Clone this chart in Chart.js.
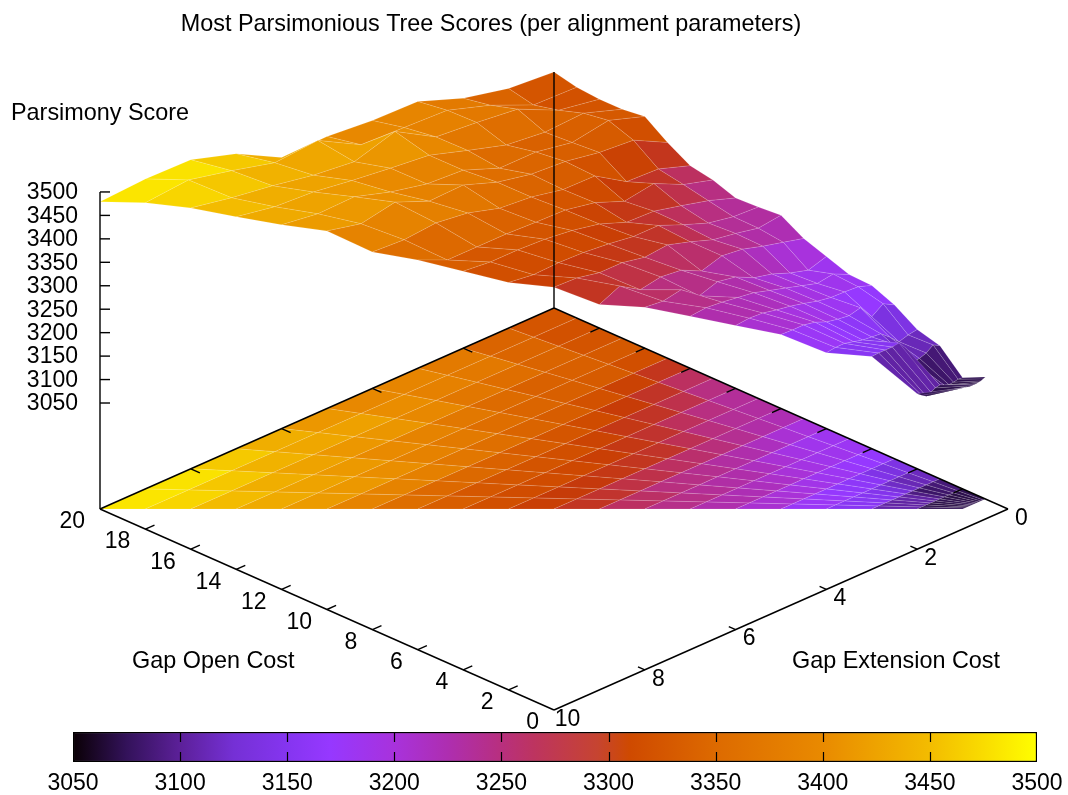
<!DOCTYPE html>
<html>
<head>
<meta charset="utf-8">
<title>Most Parsimonious Tree Scores</title>
<script src="https://cdn.jsdelivr.net/npm/chart.js@4"></script>
<style>
  html, body { margin: 0; background: #fff; }
  #wrap { position: relative; width: 1068px; height: 795px; overflow: hidden; }
  #surface { position: absolute; left: 0; top: 0; }
  #colorbar { position: absolute; left: 0; top: 720px; }
</style>
</head>
<body>
<div id="wrap">
  <canvas id="surface" width="1068" height="795"></canvas>
  <canvas id="colorbar" width="1068" height="75"></canvas>
</div>
<script>
// scores per gap open cost, columns are ext = open * j / 20, j = 0..10
const open01 = [3084, 3082, 3080, 3079, 3078, 3078, 3078, 3078, 3080, 3081, 3082];
const open02 = [3061, 3062, 3060, 3059, 3062, 3067, 3065, 3060, 3056, 3062, 3070];
const open03 = [3108, 3116, 3105, 3100, 3099, 3135, 3152, 3150, 3150, 3150, 3149];
const open04 = [3121, 3118, 3112, 3130, 3146, 3148, 3150, 3155, 3160, 3160, 3157];
const open05 = [3152, 3165, 3148, 3178, 3172, 3175, 3180, 3190, 3195, 3195, 3196];
const open06 = [3172, 3182, 3184, 3185, 3190, 3198, 3205, 3210, 3216, 3218, 3215];
const open07 = [3174, 3190, 3185, 3195, 3205, 3215, 3225, 3230, 3235, 3238, 3235];
const open08 = [3191, 3179, 3190, 3205, 3214, 3233, 3240, 3227, 3257, 3250, 3254];
const open09 = [3208, 3219, 3230, 3243, 3248, 3235, 3256, 3261, 3253, 3280, 3260];
const open10 = [3236, 3230, 3240, 3248, 3265, 3280, 3275, 3285, 3285, 3295, 3297];
const open11 = [3232, 3235, 3245, 3265, 3287, 3287, 3295, 3300, 3302, 3300, 3307];
const open12 = [3230, 3250, 3265, 3279, 3281, 3303, 3315, 3322, 3325, 3325, 3331];
const open13 = [3247, 3265, 3295, 3285, 3310, 3322, 3324, 3327, 3327, 3327, 3355];
const open14 = [3256, 3279, 3282, 3324, 3325, 3339, 3345, 3365, 3374, 3368, 3372];
const open15 = [3284, 3321, 3327, 3340, 3345, 3360, 3386, 3384, 3414, 3400, 3417];
const open16 = [3318, 3344, 3331, 3345, 3345, 3375, 3380, 3397, 3421, 3419, 3430];
const open17 = [3312, 3340, 3336, 3345, 3370, 3396, 3405, 3415, 3427, 3432, 3447];
const open18 = [3312, 3327, 3368, 3378, 3386, 3436, 3410, 3420, 3436, 3449, 3466];
const open19 = [3316, 3319, 3359, 3389, 3393, 3397, 3447, 3440, 3464, 3485, 3477];
const open20 = [3327, 3335, 3357, 3393, 3395, 3404, 3402, 3453, 3483, 3485, 3479];
const scoreRows = [open01, open02, open03, open04, open05, open06, open07, open08, open09, open10,
  open11, open12, open13, open14, open15, open16, open17, open18, open19, open20];

const openTicks = [0, 2, 4, 6, 8, 10, 12, 14, 16, 18, 20];
const extTicks = [0, 2, 4, 6, 8, 10];
const scoreTicks = [3050, 3100, 3150, 3200, 3250, 3300, 3350, 3400, 3450, 3500];

// colours, the surface reds are a bit cleaner than the box
const paletteScores = [3050, 3075, 3100, 3125, 3150, 3170, 3200, 3225, 3250, 3265, 3280, 3295, 3310, 3350, 3400, 3450, 3475, 3500];
const surfaceColors = ['#0a0005', '#33125a', '#5c2099', '#7530d5', '#8535f0', '#9638ff', '#a832dc', '#ae2eb0',
  '#b82f7e', '#bd3058', '#c13428', '#c63a08', '#cf4a00', '#dd6a00', '#e98a00', '#f3bc00', '#f9dc00', '#ffff00'];
const boxColors = ['#0a0005', '#33125a', '#5c2099', '#7530d5', '#8535f0', '#9638ff', '#a832dc', '#ae2eb0',
  '#b82f7e', '#bd3460', '#c23c48', '#c64430', '#cf4a00', '#dd6a00', '#e98a00', '#f3bc00', '#f9dc00', '#ffff00'];

const FONT = '"Liberation Sans", Helvetica, Arial, sans-serif';
const FLOOR_SCORE = 2824;
const SCORE_PX = 0.469;

function project(open, ext, score) {
  return {
    x: 554 - 22.7 * open + 45.4 * (10 - ext),
    y: 710 - 10.05 * open - 20.1 * (10 - ext) - (score - FLOOR_SCORE) * SCORE_PX
  };
}

function hexToRgb(h) {
  return [1, 3, 5].map(i => parseInt(h.slice(i, i + 2), 16));
}

function paletteColor(score) {
  const s = Math.min(Math.max(score, paletteScores[0]), paletteScores[paletteScores.length - 1]);
  let i = 0;
  while (i < paletteScores.length - 2 && s > paletteScores[i + 1]) i++;
  const t = (s - paletteScores[i]) / (paletteScores[i + 1] - paletteScores[i]);
  const a = hexToRgb(surfaceColors[i]), b = hexToRgb(surfaceColors[i + 1]);
  const c = a.map((v, k) => Math.round(v + (b[k] - v) * t));
  return `rgb(${c[0]},${c[1]},${c[2]})`;
}

function cellDataset(corners, score, seam) {
  const pts = corners.map(c => project(c[0], c[1], c[2]));
  pts.push(pts[0]);
  return {
    data: pts,
    showLine: true,
    fill: 'shape',
    backgroundColor: paletteColor(score),
    borderColor: seam,
    borderWidth: 0.5,
    pointRadius: 0,
    clip: false
  };
}

function segment(a, b) {
  return {
    data: [project(a[0], a[1], a[2]), project(b[0], b[1], b[2])],
    showLine: true,
    borderColor: '#000',
    borderWidth: 1.4,
    pointRadius: 0,
    clip: false
  };
}

// far cells go last, the chart paints later datasets first
function buildCells() {
  const cells = [];
  for (let r = 0; r < scoreRows.length - 1; r++) {
    const o1 = r + 1, o2 = r + 2;
    for (let j = 0; j < 10; j++) {
      const zs = [scoreRows[r][j], scoreRows[r][j + 1], scoreRows[r + 1][j + 1], scoreRows[r + 1][j]];
      const mean = (zs[0] + zs[1] + zs[2] + zs[3]) / 4;
      const at = [[o1, o1 * j / 20], [o1, o1 * (j + 1) / 20], [o2, o2 * (j + 1) / 20], [o2, o2 * j / 20]];
      const depth = project(o1 + 0.5, (o1 + 0.5) * (j + 0.5) / 20, FLOOR_SCORE).y;
      cells.push({ at, zs, mean, depth });
    }
  }
  return cells.sort((a, b) => b.depth - a.depth);
}

function buildAxes() {
  const out = [];
  const floor = FLOOR_SCORE;
  out.push(segment([20, 0, floor], [20, 0, open20[0]]));
  out.push(segment([20, 10, floor], [20, 10, 3500]));
  out.push(segment([0, 10, floor], [20, 10, floor]));
  out.push(segment([0, 10, floor], [0, 0, floor]));
  out.push(segment([20, 10, floor], [20, 0, floor]));
  out.push(segment([0, 0, floor], [20, 0, floor]));
  openTicks.slice(1, -1).forEach(o => {
    out.push(segment([o, 10, floor], [o, 9.8, floor]));
    out.push(segment([o, 0, floor], [o, 0.2, floor]));
  });
  extTicks.slice(1, -1).forEach(e => {
    out.push(segment([0, e, floor], [0.3, e, floor]));
    out.push(segment([20, e, floor], [19.6, e, floor]));
  });
  return out;
}

const cells = buildCells();
const surfaceSets = cells.map(c => cellDataset(c.at.map((p, i) => [p[0], p[1], c.zs[i]]), c.mean, 'rgba(255,255,255,0.25)'));
const baseSets = cells.map(c => cellDataset(c.at.map(p => [p[0], p[1], FLOOR_SCORE]), c.mean, 'rgba(255,255,255,0.25)'));

const labelsPlugin = {
  id: 'labels3d',
  afterDatasetsDraw(chart) {
    const { ctx, scales: { x, y } } = chart;
    const put = (text, px, py, align) => {
      ctx.textAlign = align;
      ctx.fillText(text, x.getPixelForValue(px), y.getPixelForValue(py));
    };
    ctx.save();
    ctx.fillStyle = '#000';
    ctx.textBaseline = 'middle';
    ctx.font = '23.4px ' + FONT;
    put('Most Parsimonious Tree Scores (per alignment parameters)', 491, 25, 'center');
    put('Parsimony Score', 11, 113.5, 'left');
    put('Gap Open Cost', 132, 661.5, 'left');
    put('Gap Extension Cost', 792, 661.5, 'left');
    ctx.font = '23px ' + FONT;
    scoreTicks.forEach(s => {
      const p = project(20, 10, s);
      put(String(s), 78, p.y + 1, 'right');
    });
    openTicks.forEach(o => {
      const p = project(o, 10, FLOOR_SCORE);
      put(String(o), p.x - 15, p.y + 13, 'right');
    });
    extTicks.forEach(e => {
      const p = project(0, e, FLOOR_SCORE);
      put(String(e), p.x + 13.5, p.y + 9.5, 'center');
    });
    ctx.restore();
  }
};

const scoreTickMarks = scoreTicks.map(s => {
  const p = project(20, 10, s);
  return {
    data: [p, { x: p.x + 10, y: p.y }],
    showLine: true, borderColor: '#000', borderWidth: 1.4, pointRadius: 0, clip: false
  };
});

new Chart(document.getElementById('surface'), {
  type: 'scatter',
  data: { datasets: [...buildAxes(), ...scoreTickMarks, ...surfaceSets, ...baseSets] },
  options: {
    responsive: false,
    animation: false,
    events: [],
    layout: { padding: 0 },
    plugins: { legend: { display: false }, tooltip: { enabled: false } },
    scales: {
      x: { type: 'linear', min: 0, max: 1068, display: false },
      y: { type: 'linear', min: 0, max: 795, reverse: true, display: false }
    }
  },
  plugins: [labelsPlugin]
});

const colorTicks = {
  id: 'colorTicks',
  afterDatasetsDraw(chart) {
    const { ctx, chartArea: { top, bottom }, scales: { x } } = chart;
    ctx.save();
    ctx.strokeStyle = '#000';
    ctx.lineWidth = 1.2;
    scoreTicks.slice(1, -1).forEach(s => {
      const px = Math.round(x.getPixelForValue(s)) + 0.5;
      ctx.beginPath();
      ctx.moveTo(px, top);
      ctx.lineTo(px, top + 10);
      ctx.moveTo(px, bottom - 10);
      ctx.lineTo(px, bottom);
      ctx.stroke();
    });
    ctx.restore();
  }
};

new Chart(document.getElementById('colorbar'), {
  type: 'bar',
  data: {
    labels: ['score'],
    datasets: [{
      data: [[scoreTicks[0], scoreTicks[scoreTicks.length - 1]]],
      backgroundColor(c) {
        const { chart } = c;
        const x = chart.scales.x;
        if (!x || !Number.isFinite(x.left) || !Number.isFinite(x.right)) return '#888';
        const g = chart.ctx.createLinearGradient(x.left, 0, x.right, 0);
        paletteScores.forEach((s, i) => g.addColorStop((s - 3050) / 450, boxColors[i]));
        return g;
      },
      borderColor: '#000',
      borderWidth: 1.5,
      borderSkipped: false,
      barPercentage: 1,
      categoryPercentage: 1
    }]
  },
  options: {
    indexAxis: 'y',
    responsive: false,
    animation: false,
    events: [],
    layout: { padding: { left: 73, right: 31, top: 12, bottom: 3 } },
    plugins: { legend: { display: false }, tooltip: { enabled: false } },
    scales: {
      x: {
        type: 'linear', min: 3050, max: 3500,
        grid: { display: false },
        border: { display: false },
        ticks: {
          stepSize: 50,
          color: '#000',
          font: { family: FONT, size: 23, lineHeight: 1 },
          maxRotation: 0,
          padding: 2,
          callback: v => String(v)
        }
      },
      y: { display: false }
    }
  },
  plugins: [colorTicks]
});
</script>
</body>
</html>
